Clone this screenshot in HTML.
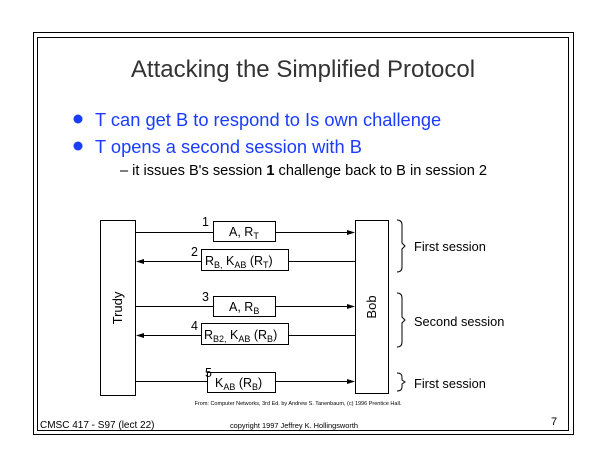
<!DOCTYPE html>
<html><head><style>
body{margin:0;background:#fff;width:605px;height:468px;overflow:hidden}
svg{display:block}
text{font-family:"Liberation Sans",Arial,sans-serif}
</style></head><body>
<svg width="605" height="468" viewBox="0 0 605 468" xmlns="http://www.w3.org/2000/svg">
<rect x="33.5" y="32.5" width="540" height="402" fill="none" stroke="#000"/>
<rect x="37.5" y="37.5" width="531" height="393" fill="none" stroke="#000"/>
<text x="303" y="77" font-size="24" fill="#333" text-anchor="middle">Attacking the Simplified Protocol</text>
<g fill="#1a3cff">
<circle cx="78" cy="119" r="4.5"/><circle cx="78" cy="146" r="4.5"/>
<text x="95" y="126" font-size="18.3">T can get B to respond to Is own challenge</text>
<text x="95" y="153" font-size="18.3">T opens a second session with B</text>
</g>
<text x="120" y="175" font-size="14.6">–  it issues B's session <tspan font-weight="bold">1</tspan> challenge back to B in session 2</text>

<g stroke="#000" fill="none">
<rect x="100.5" y="220.5" width="35" height="175"/>
<rect x="355.5" y="220.5" width="33" height="173"/>
<line x1="136" y1="232.5" x2="350" y2="232.5"/>
<line x1="140" y1="261.5" x2="355" y2="261.5"/>
<line x1="136" y1="306.5" x2="350" y2="306.5"/>
<line x1="140" y1="335.5" x2="355" y2="335.5"/>
<line x1="136" y1="381.5" x2="350" y2="381.5"/>
</g>
<g fill="#000">
<polygon points="355,232.5 347,230 347,235"/>
<polygon points="136,261.5 144,259 144,264"/>
<polygon points="355,306.5 347,304 347,309"/>
<polygon points="136,335.5 144,333 144,338"/>
<polygon points="355,381.5 347,379 347,384"/>
</g>
<g stroke="#000" fill="#fff">
<rect x="213.5" y="221.5" width="62" height="20"/>
<rect x="201.5" y="249.5" width="87" height="21"/>
<rect x="213.5" y="296.5" width="62" height="20"/>
<rect x="201.5" y="323.5" width="87" height="21"/>
<rect x="207.5" y="372.5" width="68" height="20"/>
</g>
<g font-size="12.5">
<text x="202" y="226">1</text><text x="191" y="256">2</text>
<text x="202" y="301">3</text><text x="191" y="330">4</text>
<text x="205" y="377">5</text>
<text x="229" y="236">A, R<tspan font-size="9" dy="3">T</tspan></text>
<text x="205" y="265">R<tspan font-size="9" dy="3">B,</tspan><tspan dy="-3"> K</tspan><tspan font-size="9" dy="3">AB</tspan><tspan dy="-3"> (R</tspan><tspan font-size="9" dy="3">T</tspan><tspan dy="-3">)</tspan></text>
<text x="229" y="311">A, R<tspan font-size="9" dy="3">B</tspan></text>
<text x="204" y="339">R<tspan font-size="9" dy="3">B2,</tspan><tspan dy="-3"> K</tspan><tspan font-size="9" dy="3">AB</tspan><tspan dy="-3"> (R</tspan><tspan font-size="9" dy="3">B</tspan><tspan dy="-3">)</tspan></text>
<text x="215" y="387">K<tspan font-size="9" dy="3">AB</tspan><tspan dy="-3"> (R</tspan><tspan font-size="9" dy="3">B</tspan><tspan dy="-3">)</tspan></text>
<text transform="translate(122,308) rotate(-90)" text-anchor="middle" font-size="13">Trudy</text>
<text transform="translate(376,307) rotate(-90)" text-anchor="middle" font-size="13">Bob</text>
<text x="414" y="251" font-size="12.8">First session</text>
<text x="414" y="326" font-size="12.8">Second session</text>
<text x="414" y="388" font-size="12.8">First session</text>
</g>
<g stroke="#000" fill="none" stroke-width="1">
<path d="M397,220 q5,0 5,5 v18 l3,3 l-3,3 v18 q0,5 -5,5"/>
<path d="M397,293 q5,0 5,5 v19 l3,3 l-3,3 v19 q0,5 -5,5"/>
<path d="M397,373 q5,0 5,4 v3 l3,2 l-3,2 v3 q0,4 -5,4"/>
</g>
<text x="298" y="405" font-size="5.5" text-anchor="middle">From: Computer Networks, 3rd Ed. by Andrew S. Tanenbaum, (c) 1996 Prentice Hall.</text>
<text x="40" y="428" font-size="10">CMSC 417 - S97  (lect 22)</text>
<text x="294" y="428" font-size="7.4" text-anchor="middle">copyright 1997  Jeffrey K. Hollingsworth</text>
<text x="551" y="425" font-size="11">7</text>
</svg>
</body></html>
